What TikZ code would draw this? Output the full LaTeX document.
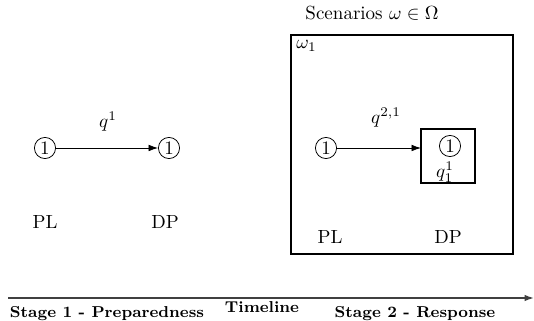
\documentclass[tikz,border=0pt]{standalone}
\usepackage{amsmath,amssymb}
\usepackage{tikz}
\usetikzlibrary{arrows.meta, positioning, calc}

\begin{document}
\begin{tikzpicture}[
    x=0.0185cm, y=-0.0185cm,
    stagenode/.style={draw, circle, inner sep=1pt},
    arrow/.style={-{Latex[length=5pt, width=3.5pt]}},
    actor/.style={font=\normalsize},
    scenariobox/.style={draw, thick},
    stagelbl/.style={font=\fontsize{8.3}{10}\selectfont\bfseries}
]
\useasboundingbox (0,0) rectangle (534,321);
% Stage 1
\node[stagenode] (pl1) at (45,148) {1};
\node[stagenode] (dp1) at (169,148) {1};
\node (q1) at (108,122) {$q^1$};
\node[actor] (pllbl1) at (45,222) {PL};
\node[actor] (dplbl1) at (165,222) {DP};
\draw[arrow] (pl1) -- (dp1);
% Stage 2: one scenario
\node (scen) at (372,13) {Scenarios $\omega \in \Omega$};
\draw[scenariobox] (291,35) rectangle (513,254);
\node[anchor=north west, inner sep=1pt] (om1) at (294,38) {$\omega_1$};
\node[stagenode] (pl2) at (326,148) {1};
\node[stagenode] (dp2) at (450,146) {1};
\node[inner sep=0pt] (q11) at (445,172) {$q^1_1$};
\draw[scenariobox] (421,129) rectangle (475,183);
\coordinate (dpin) at (421,148);
\node (q21) at (386,118) {$q^{2,1}$};
\node[actor] (pllbl2) at (330,237) {PL};
\node[actor] (dplbl2) at (448,237) {DP};
\draw[arrow] (pl2) -- (dpin);
% Timeline
\coordinate (tstart) at (8,298);
\coordinate (tend) at (534,298);
\draw[-{Latex[length=5pt, width=3.5pt]}, thick, black!75] (tstart) -- (tend);
\node[stagelbl] (tl) at (262,307) {Timeline};
\node[stagelbl] (s1) at (107,314) {Stage 1 - Preparedness};
\node[stagelbl] (s2) at (415,314) {Stage 2 - Response};
\end{tikzpicture}
\end{document}
